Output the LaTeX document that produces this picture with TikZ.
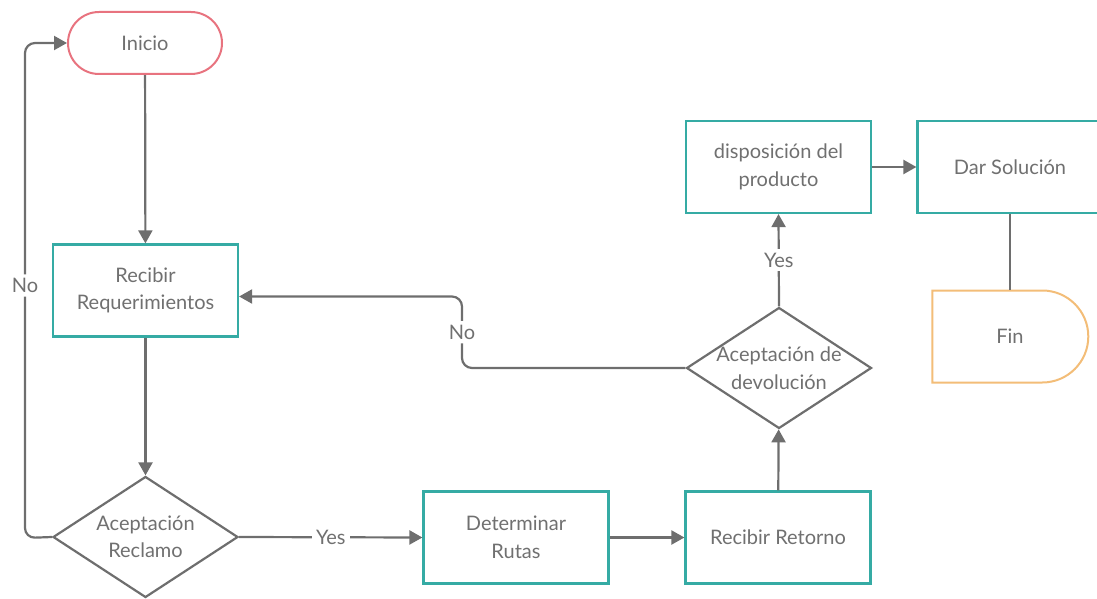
\documentclass[tikz,border=0pt]{standalone}
\usepackage{fontspec}
\setmainfont{Lato}
\usetikzlibrary{arrows.meta,shapes.geometric,shapes.misc}
\definecolor{teal}{HTML}{35ABA4}
\definecolor{pinkb}{HTML}{E8737F}
\definecolor{orangeb}{HTML}{F3BD78}
\definecolor{linec}{HTML}{6E6E6E}
\definecolor{txtc}{HTML}{707070}
\tikzset{
  base/.style={font=\fontsize{20}{27.5}\selectfont, text=txtc, align=center, inner sep=0pt},
  procbox/.style={base, draw=teal, line width=2.2pt, fill=white, minimum width=185pt, minimum height=92pt},
  decision/.style={base, diamond, draw=linec, line width=2.2pt, fill=white, minimum width=185pt, minimum height=121pt},
  dtext/.style={base, label position=center},
  startbox/.style={base, rounded rectangle, draw=pinkb, line width=2pt, fill=white, minimum width=154pt, minimum height=62pt},
  endbox/.style={base, rounded rectangle, rounded rectangle left arc=none, draw=orangeb, line width=2pt, fill=white, minimum width=156pt, minimum height=92pt},
  conn/.style={draw=linec, line width=2.2pt},
  arr/.style={conn, -{Triangle[length=13pt,width=14pt]}},
  lbl/.style={base, fill=white, inner sep=4pt},
}
\begin{document}
\begin{tikzpicture}[x=1pt,y=-1pt]
\useasboundingbox (0,0) rectangle (1097,599);
\clip (0,0) rectangle (1097,599);
\node[startbox] (ini) at (145,43) {Inicio};
\node[procbox] (rr) at (145.5,290.5) {Recibir\\Requerimientos};
\node[decision, label={[base]center:Aceptación\\Reclamo}] (d1) at (145.5,537) {};
\node[procbox] (dr) at (516,537.5) {Determinar\\Rutas};
\node[procbox] (rt) at (778,537.5) {Recibir Retorno};
\node[decision, label={[base]center:Aceptación de\\devolución}] (d2) at (779,368) {};
\node[procbox] (dp) at (778.5,167) {disposición del\\producto};
\node[procbox] (ds) at (1010,167) {Dar Solución};
\node[endbox] (fin) at (1010,336.5) {Fin};
\coordinate (c1) at (462,368);
\coordinate (c2) at (25,538);
\draw[arr] (ini) -- (rr);
\draw[arr] (rr) -- (d1);
\draw[arr, rounded corners=10pt] (d1.west) -- (c2) |- node[lbl, pos=0.25, yshift=5pt]{No} (ini.west);
\draw[arr] (d1.east) -- node[lbl]{Yes} (dr.west);
\draw[arr] (dr) -- (rt);
\draw[arr] (rt) -- (d2);
\draw[arr, rounded corners=10pt] (d2.west) -- (c1) |- node[lbl, pos=0.25]{No} ([yshift=-6pt]rr.east);
\draw[arr] (d2.north) -- node[lbl]{Yes} (dp.south);
\draw[arr] (dp) -- (ds);
\draw[conn] (ds.south) -- (fin.north);
\end{tikzpicture}
\end{document}
